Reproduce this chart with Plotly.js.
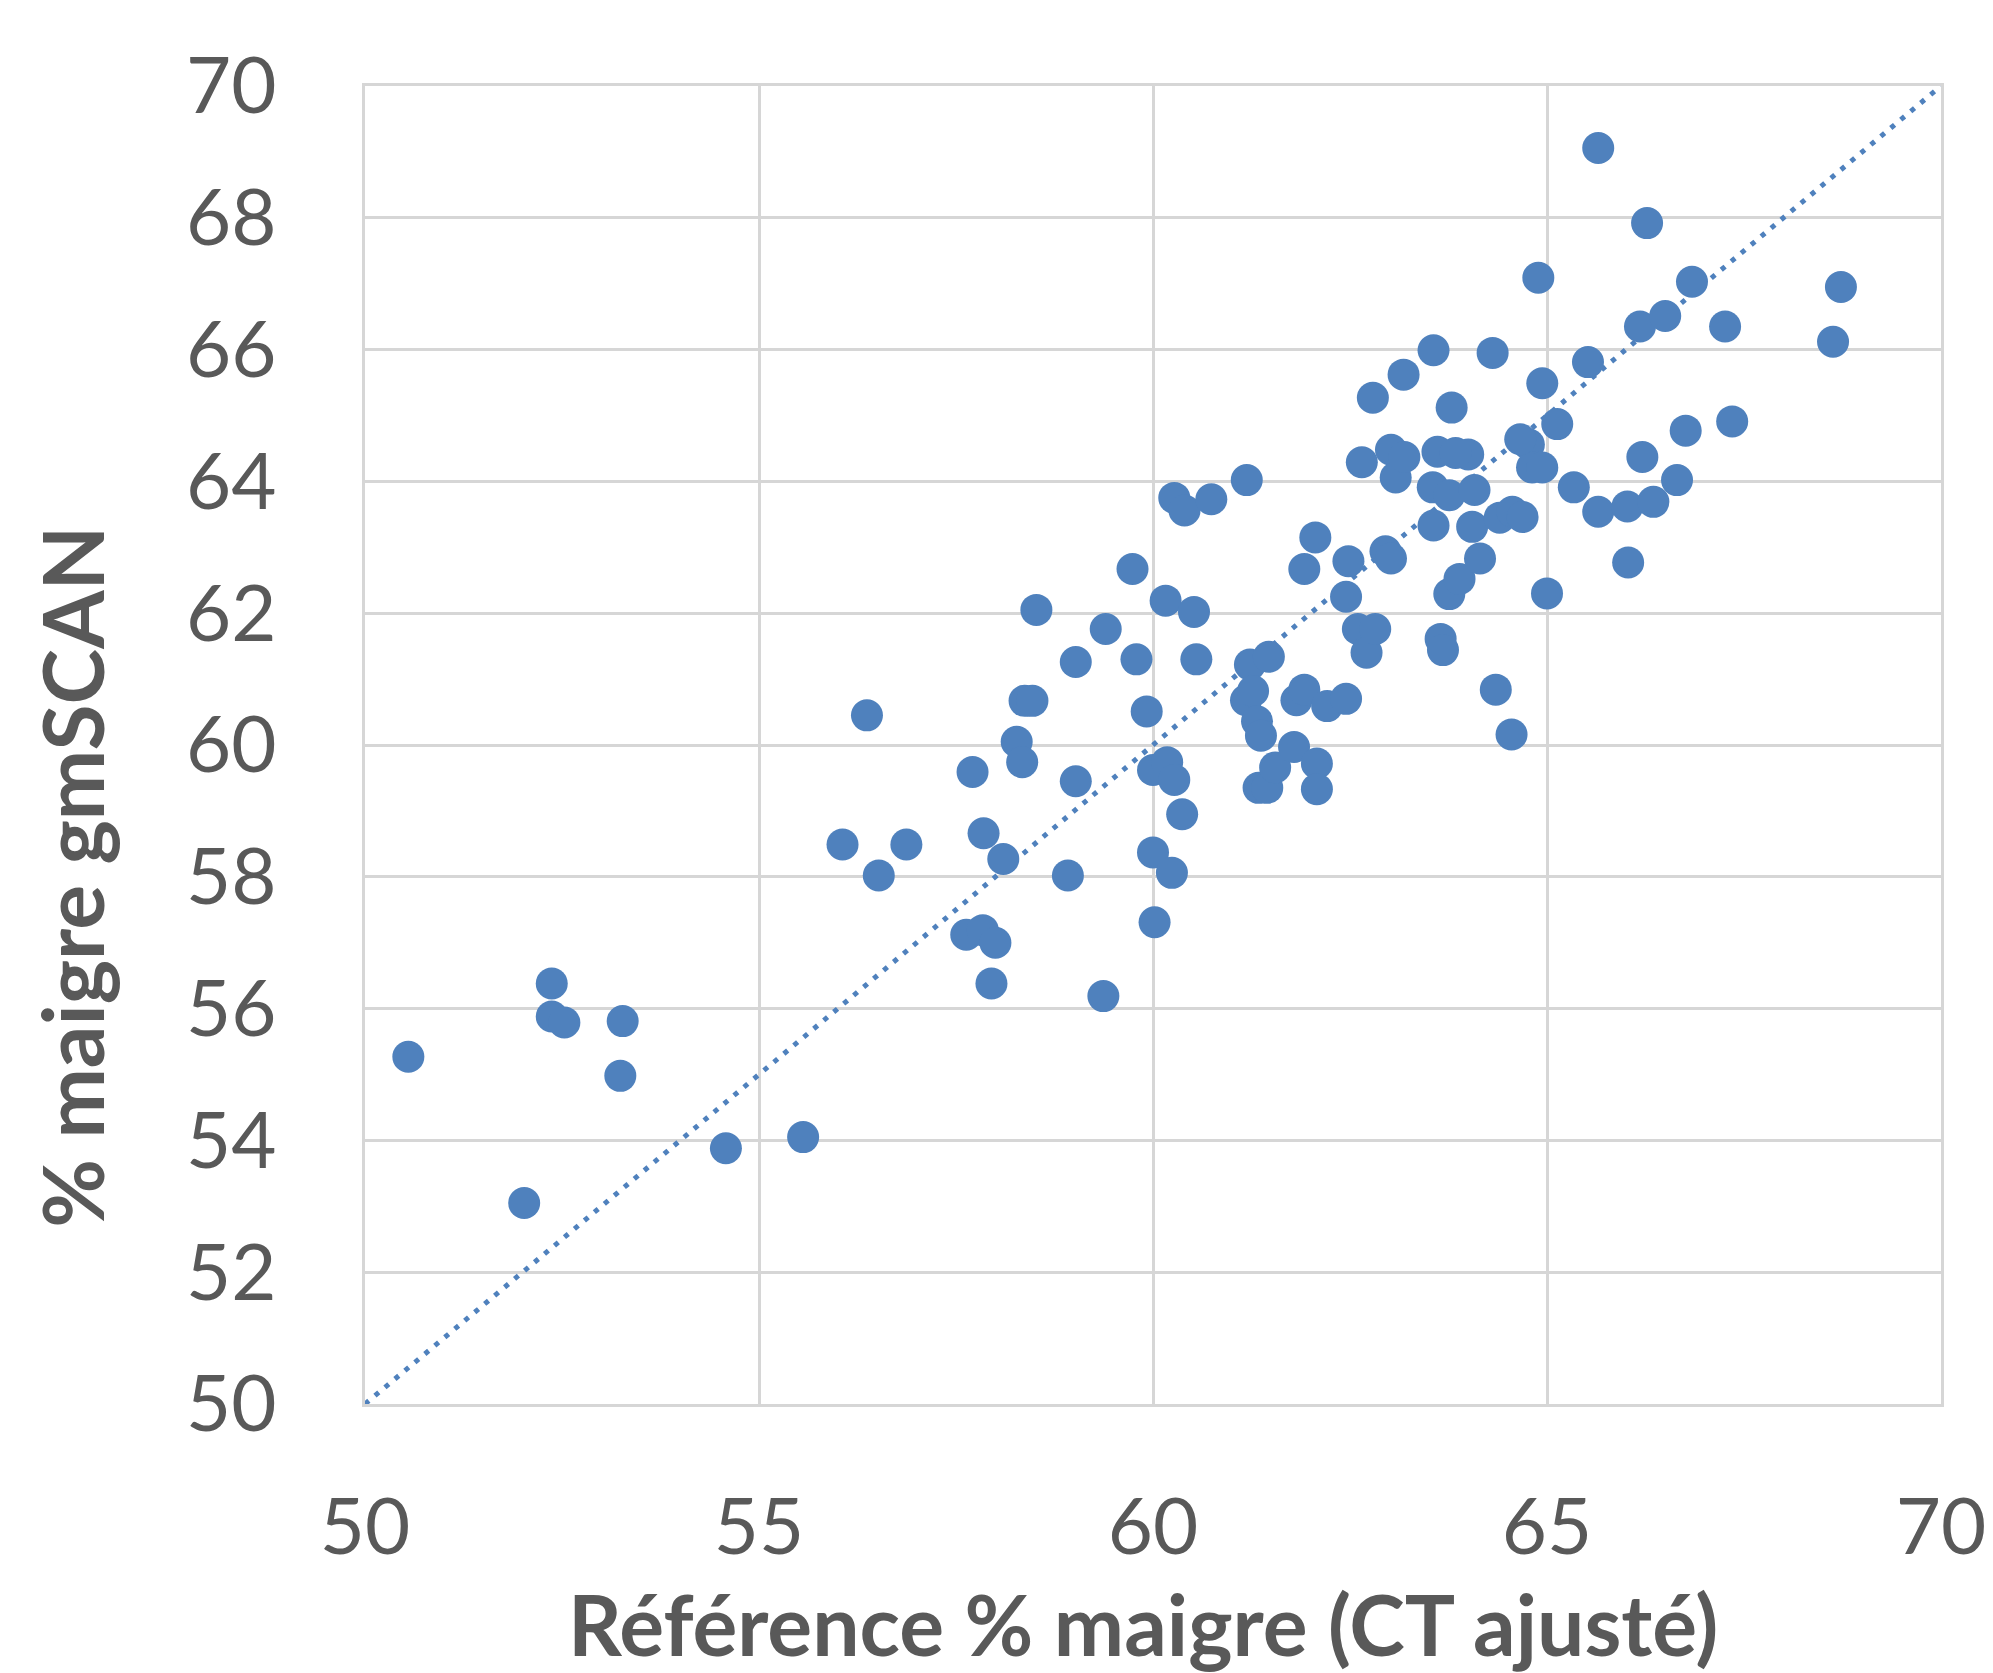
<!DOCTYPE html>
<html>
<head>
<meta charset="utf-8">
<script src="https://cdn.plot.ly/plotly-3.0.1.min.js"></script>
<style>
html,body{margin:0;padding:0;background:#fff;}
#chart{width:1993px;height:1673px;}
</style>
</head>
<body>
<div id="chart"></div>
<script>
// Reference % lean (CT adjusted)
const refLean = [50.55, 52.02, 52.37, 52.37, 52.53, 53.27, 53.24, 54.58, 55.56, 56.06,
  56.37, 56.52, 56.87, 57.71, 57.85, 58.10, 57.63, 57.84, 58.00, 57.95,
  58.27, 58.34, 58.37, 58.47, 58.52, 58.92, 59.02, 59.02, 59.37, 59.40,
  59.74, 59.79, 59.92, 60.00, 60.02, 60.00, 60.18, 60.24, 60.27, 60.37,
  60.16, 60.27, 60.40, 60.52, 60.55, 60.74, 61.19, 61.18, 61.23, 61.27,
  61.32, 61.37, 61.47, 61.34, 61.45, 61.55, 61.79, 61.82, 61.92, 61.92,
  62.06, 62.08, 62.08, 62.21, 62.45, 62.45, 62.48, 62.65, 62.60, 62.71,
  62.82, 62.79, 62.95, 63.02, 63.02, 63.08, 63.18, 63.19, 63.56, 63.56,
  63.55, 63.61, 63.65, 63.68, 63.76, 63.79, 63.76, 63.89, 64.00, 64.08,
  64.05, 64.15, 64.31, 64.35, 64.40, 64.55, 64.56, 64.69, 64.77, 64.89,
  64.81, 64.94, 64.94, 65.00, 65.13, 65.34, 65.52, 65.65, 65.65, 66.02,
  66.03, 66.18, 66.21, 66.27, 66.35, 66.50, 66.65, 66.76, 66.84, 67.26,
  67.35, 68.63, 68.73, 63.84, 64.66];
// % lean gmSCAN
const gmscanLean = [55.27, 53.05, 56.38, 55.88, 55.79, 55.81, 54.98, 53.88, 54.05, 58.49,
  60.45, 58.02, 58.49, 59.59, 58.66, 58.27, 57.12, 57.19, 57.00, 56.38,
  60.05, 59.74, 60.67, 60.67, 62.05, 58.02, 59.45, 61.26, 56.19, 61.76,
  62.67, 61.30, 60.51, 58.37, 57.31, 59.62, 59.74, 58.06, 59.47, 58.95,
  62.19, 63.75, 63.56, 62.02, 61.30, 63.73, 64.02, 60.68, 61.22, 60.82,
  60.36, 60.14, 61.34, 59.35, 59.35, 59.66, 59.97, 60.68, 60.84, 62.67,
  63.15, 59.72, 59.33, 60.59, 60.70, 62.25, 62.79, 64.29, 61.76, 61.40,
  61.76, 65.27, 62.94, 62.83, 64.48, 64.06, 65.62, 64.37, 65.99, 63.33,
  63.91, 64.45, 61.61, 61.44, 62.29, 65.12, 63.79, 62.52, 64.41, 63.87,
  63.31, 62.83, 65.95, 60.84, 63.45, 60.16, 63.54, 63.46, 64.56, 67.09,
  64.21, 64.21, 65.49, 62.30, 64.87, 63.91, 65.81, 69.06, 63.54, 63.62,
  62.77, 66.35, 64.37, 67.92, 63.69, 66.51, 64.02, 64.77, 67.03, 66.35,
  64.91, 66.12, 66.95, 64.43, 64.64];
// identity line y = x
const identityX = [50, 70];
const identityY = [50, 70];
const xTicks = [50, 55, 60, 65, 70];
const yTicks = [50, 52, 54, 56, 58, 60, 62, 64, 66, 68, 70];
const xTitle = 'Référence % maigre (CT ajusté)';
const yTitle = '% maigre gmSCAN';

const blue = '#4F81BD';
const grid = '#d6d6d6';
const fam = 'Lato, "Open Sans", sans-serif';
const tickFont = {family: fam, size: 78, color: '#595959'};
const titleFont = {family: fam, size: 84, color: '#595959'};

const traces = [
  {
    x: identityX, y: identityY, type: 'scatter', mode: 'lines',
    line: {color: blue, width: 5, dash: '5px,8px'},
    hoverinfo: 'skip', showlegend: false
  },
  {
    x: refLean, y: gmscanLean, type: 'scatter', mode: 'markers',
    marker: {color: blue, size: 32, line: {width: 0}},
    showlegend: false
  }
];

const layout = {
  width: 1993, height: 1673,
  paper_bgcolor: '#ffffff', plot_bgcolor: '#ffffff',
  margin: {l: 365, r: 52, t: 86, b: 269},
  showlegend: false,
  xaxis: {
    range: [50, 70], tickvals: xTicks, ticktext: xTicks.map(String),
    showgrid: true, gridcolor: grid, gridwidth: 3,
    zeroline: false, showline: true, mirror: true, linecolor: grid, linewidth: 3,
    ticks: 'outside', ticklen: 53, tickcolor: 'rgba(0,0,0,0)',
    tickfont: tickFont
  },
  yaxis: {
    range: [50, 70], tickvals: yTicks, ticktext: yTicks.map(String),
    showgrid: true, gridcolor: grid, gridwidth: 3,
    zeroline: false, showline: true, mirror: true, linecolor: grid, linewidth: 3,
    ticks: 'outside', ticklen: 70, tickcolor: 'rgba(0,0,0,0)',
    tickfont: tickFont
  },
  annotations: [
    {
      text: '<b>' + xTitle + '</b>', xref: 'paper', yref: 'paper',
      x: 0.4935, y: 0, yshift: -167, xanchor: 'center', yanchor: 'top',
      showarrow: false, font: titleFont
    },
    {
      text: '<b>' + yTitle + '</b>', xref: 'paper', yref: 'paper',
      x: 0, xshift: -293, y: 0.40, xanchor: 'center', yanchor: 'middle',
      textangle: -90, showarrow: false, font: titleFont
    }
  ]
};

Plotly.newPlot('chart', traces, layout, {staticPlot: true, displayModeBar: false});
</script>
</body>
</html>
